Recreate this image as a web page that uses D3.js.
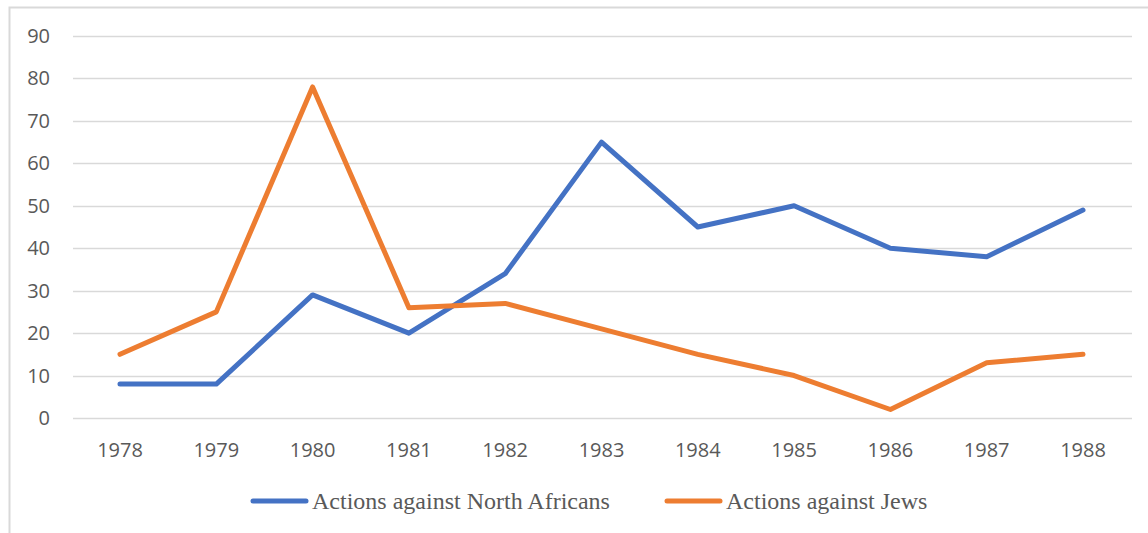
<!DOCTYPE html>
<html>
<head>
<meta charset="utf-8">
<script src="https://cdn.jsdelivr.net/npm/d3@7"></script>
<style>
  body { margin: 0; background: #fff; }
  svg { display: block; }
</style>
</head>
<body>
<div id="chart"></div>
<script>
var years = [1978, 1979, 1980, 1981, 1982, 1983, 1984, 1985, 1986, 1987, 1988];
var northAfricans = [8, 8, 29, 20, 34, 65, 45, 50, 40, 38, 49];
var jews = [15, 25, 78, 26, 27, 21, 15, 10, 2, 13, 15];
var yTicks = [0, 10, 20, 30, 40, 50, 60, 70, 80, 90];
var seriesNames = ["Actions against North Africans", "Actions against Jews"];
var seriesColors = ["#4472C4", "#ED7D31"];

var W = 1148, H = 533;
var svg = d3.select("#chart").append("svg")
    .attr("width", W)
    .attr("height", H);

// chart frame
svg.append("path")
    .attr("d", "M9.5," + H + "V7.5H" + W)
    .attr("fill", "none")
    .attr("stroke", "#d9d9d9")
    .attr("stroke-width", 2);

var x = d3.scalePoint()
    .domain(years)
    .range([120, 1083]);

var y = d3.scaleLinear()
    .domain([0, 90])
    .range([418, 36]);

// gridlines
svg.append("g")
    .selectAll("line")
    .data(yTicks)
    .enter().append("line")
    .attr("x1", 73)
    .attr("x2", 1132)
    .attr("y1", function (d) { return Math.round(y(d)) + 0.5; })
    .attr("y2", function (d) { return Math.round(y(d)) + 0.5; })
    .attr("stroke", "#d9d9d9")
    .attr("stroke-width", 1.5);

// y labels
svg.append("g")
    .selectAll("text")
    .data(yTicks)
    .enter().append("text")
    .attr("x", 50)
    .attr("y", function (d) { return y(d); })
    .attr("dy", "0.35em")
    .attr("text-anchor", "end")
    .attr("font-family", "'Open Sans', sans-serif")
    .attr("font-size", 20)
    .attr("fill", "#595959")
    .text(function (d) { return d; });

// x labels
svg.append("g")
    .selectAll("text")
    .data(years)
    .enter().append("text")
    .attr("x", function (d) { return x(d); })
    .attr("y", 450)
    .attr("dy", "0.35em")
    .attr("text-anchor", "middle")
    .attr("font-family", "'Open Sans', sans-serif")
    .attr("font-size", 20)
    .attr("fill", "#595959")
    .text(function (d) { return d; });

var line = d3.line()
    .x(function (d, i) { return x(years[i]); })
    .y(function (d) { return y(d); });

[northAfricans, jews].forEach(function (vals, i) {
    svg.append("path")
        .datum(vals)
        .attr("d", line)
        .attr("fill", "none")
        .attr("stroke", seriesColors[i])
        .attr("stroke-width", 5)
        .attr("stroke-linejoin", "round")
        .attr("stroke-linecap", "round");
});

// legend
var legendX = [253, 667];
var legend = svg.append("g")
    .selectAll("g")
    .data(seriesNames)
    .enter().append("g")
    .attr("transform", function (d, i) { return "translate(" + legendX[i] + ",501)"; });

legend.append("line")
    .attr("x1", 0)
    .attr("x2", 53)
    .attr("stroke", function (d, i) { return seriesColors[i]; })
    .attr("stroke-width", 5)
    .attr("stroke-linecap", "round");

legend.append("text")
    .attr("x", 59)
    .attr("dy", "0.35em")
    .attr("font-family", "'Liberation Serif', 'Times New Roman', serif")
    .attr("font-size", 24)
    .attr("fill", "#595959")
    .text(function (d) { return d; });
</script>
</body>
</html>
